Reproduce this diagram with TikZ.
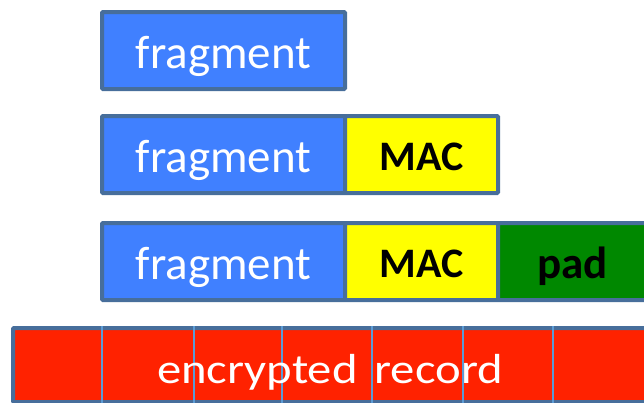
\documentclass[tikz,border=0pt]{standalone}
\usepackage{fontspec}
\setmainfont{Carlito}
\definecolor{edge}{HTML}{476E9B}
\definecolor{fragblue}{HTML}{4080FF}
\definecolor{macyellow}{HTML}{FFFF00}
\definecolor{padgreen}{HTML}{008800}
\definecolor{recred}{HTML}{FF2200}
\definecolor{sepblue}{HTML}{5B9BD5}
\tikzset{
  cell/.style={draw=edge, line width=4pt, anchor=north west, inner sep=0pt, rounded corners=1pt, minimum height=77pt},
  fragcell/.style={cell, fill=fragblue, minimum width=243pt},
  maccell/.style={cell, fill=macyellow, minimum width=153pt},
  padcell/.style={cell, fill=padgreen, minimum width=170pt},
  reccell/.style={cell, fill=recred, minimum width=700pt, minimum height=74pt},
  label/.style={anchor=base, inner sep=0pt},
  fragtext/.style={label, text=white, font=\fontsize{47}{52}\selectfont},
  mactext/.style={label, text=black, font=\fontsize{42}{48}\selectfont\bfseries},
  padtext/.style={label, text=black, font=\fontsize{45}{50}\selectfont\bfseries},
  rectext/.style={label, text=white, font=\fontsize{42}{48}\selectfont},
  sepline/.style={draw=sepblue, line width=1.2pt}
}
\begin{document}
\begin{tikzpicture}[x=1pt,y=-1pt]
\useasboundingbox (0,0) rectangle (644,402);
\clip (0,0) rectangle (644,402);
% row 1
\node[fragcell] (f1) at (100,10) {};
\node[fragtext] (t1) at ([yshift=-58pt]f1.north) {fragment};
% row 2
\node[fragcell] (f2) at (100,114) {};
\node[maccell] (m2) at (343,114) {};
\node[fragtext] (t2) at ([yshift=-58pt]f2.north) {fragment};
\node[mactext] (u2) at ([yshift=-56pt]m2.north) {MAC};
% row 3
\node[fragcell] (f3) at (100,221) {};
\node[maccell] (m3) at (343,221) {};
\node[padcell] (p3) at (496,221) {};
\node[fragtext] (t3) at ([yshift=-58pt]f3.north) {fragment};
\node[mactext] (u3) at ([yshift=-56pt]m3.north) {MAC};
\node[padtext] (v3) at (572.5,278) {pad};
% row 4
\node[reccell] (r) at (11,326) {};
\foreach \xx in {102,194,282,372,463,553}{
  \draw[sepline] (r.north -| \xx,0) -- (r.south -| \xx,0);
}
\node[rectext, xscale=1.16] (rt) at (330,383) {encrypted\hspace{5pt} record};
\end{tikzpicture}
\end{document}
